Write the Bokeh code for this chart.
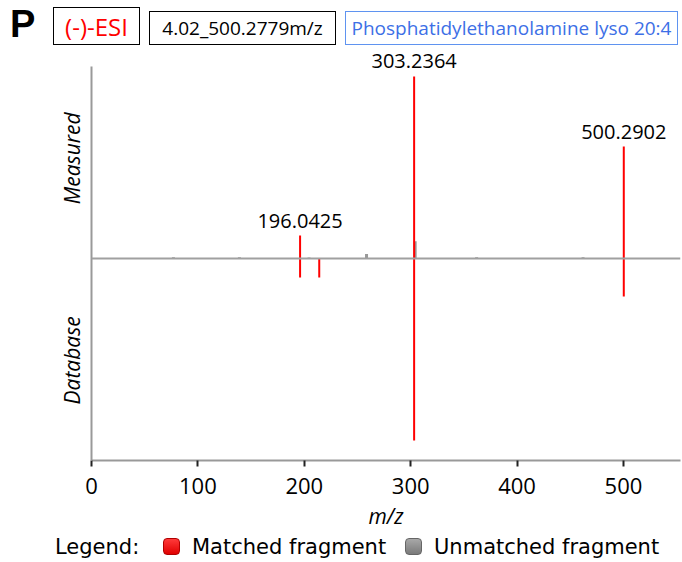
from bokeh.core.properties import value
from bokeh.embed import file_html
from bokeh.layouts import column
from bokeh.models import ColumnDataSource, Div, FixedTicker, Span
from bokeh.plotting import figure
from bokeh.resources import INLINE

# Fragment spectra: measured peaks point up, database peaks point down
matched_mz = [196.0425, 303.2364, 500.2902]
matched_int = [12.6, 100.0, 61.5]

unmatched_mz = [77.0, 139.0, 204.5, 258.5, 304.2, 362.0, 462.0]
unmatched_int = [0.6, 0.6, 0.5, 2.5, 9.5, 0.6, 0.6]

database_mz = [196.0425, 214.0531, 303.2364, 500.2902]
database_int = [-10.4, -10.4, -100.0, -20.9]

x_ticks = [0, 100, 200, 300, 400, 500]
side_labels = {55: "Measured", -56: "Database"}

ion_mode = "(-)-ESI"
feature_id = "4.02_500.2779m/z"
compound = "Phosphatidylethanolamine lyso 20:4"
legend_items = [("Matched fragment", "#ff3a3a", "#e00000", "#b00000"),
                ("Unmatched fragment", "#a8a8a8", "#7a7a7a", "#666666")]

FONT = "Open Sans"
RED = "#ff0000"
GREY = "#999999"

HEADER_H = 47
LEGEND_H = 27
PLOT_H = 562 - HEADER_H - LEGEND_H

# ---------------------------------------------------------------- header
header_html = f"""
<div style="position:relative;width:682px;height:{HEADER_H}px;background:white;">
  <div style="position:absolute;left:10px;top:3px;font:bold 38px 'Liberation Sans';color:black;">P</div>
  <div style="position:absolute;left:53px;top:7px;width:87px;height:38px;border:1px solid black;
              display:flex;align-items:center;justify-content:center;
              font:24px 'Open Sans';color:#ff0000;">{ion_mode}</div>
  <div style="position:absolute;left:149px;top:11px;width:187px;height:34px;border:1px solid black;
              display:flex;align-items:center;justify-content:center;
              font:19px 'Open Sans';color:black;">{feature_id}</div>
  <div style="position:absolute;left:345px;top:11px;width:333px;height:34px;border:1px solid #5f93f0;
              display:flex;align-items:center;justify-content:center;
              font:19px 'Open Sans';color:#3d6fe6;">{compound}</div>
</div>
"""
header = Div(text=header_html, width=682, height=HEADER_H, margin=0)

# ---------------------------------------------------------------- spectrum
p = figure(
    width=682, height=PLOT_H,
    x_range=(0, 553.6), y_range=(-111, 115.9),
    output_backend="svg", toolbar_location=None,
    min_border_left=91, min_border_right=2,
    min_border_top=0, min_border_bottom=75,
    margin=0,
)
p.outline_line_color = None
p.grid.visible = False
p.background_fill_color = "white"
p.border_fill_color = "white"

# left axis: grey rule carrying the two side captions
ya = p.yaxis[0]
ya.bounds = (-111, 105.5)
ya.ticker = FixedTicker(ticks=list(side_labels))
ya.major_label_overrides = dict(side_labels)
ya.major_label_orientation = "parallel"
ya.axis_line_color = GREY
ya.axis_line_width = 2
ya.major_tick_line_color = None
ya.minor_tick_line_color = None
ya.major_tick_out = 0
ya.major_tick_in = 0
ya.major_label_standoff = 5
ya.major_label_text_font = FONT
ya.major_label_text_font_size = "21px"
ya.major_label_text_font_style = "italic"
ya.major_label_text_color = "black"

# bottom axis
xa = p.xaxis[0]
xa.ticker = FixedTicker(ticks=x_ticks)
xa.axis_line_color = GREY
xa.axis_line_width = 2
xa.major_tick_line_color = "#222222"
xa.major_tick_line_width = 2
xa.major_tick_out = 6
xa.major_tick_in = 0
xa.minor_tick_line_color = None
xa.major_label_text_font = FONT
xa.major_label_text_font_size = "22px"
xa.major_label_text_color = "black"
xa.major_label_standoff = 11
xa.axis_label = "m/z"
xa.axis_label_text_font = FONT
xa.axis_label_text_font_size = "21px"
xa.axis_label_text_font_style = "italic"
xa.axis_label_text_color = "black"
xa.axis_label_standoff = 5

# peaks
unm = ColumnDataSource(dict(x=unmatched_mz, y=unmatched_int, y0=[0] * len(unmatched_mz)))
p.segment(x0="x", y0="y0", x1="x", y1="y", source=unm, line_color=GREY, line_width=3)

meas = ColumnDataSource(dict(
    x=matched_mz, y=matched_int, y0=[0] * len(matched_mz),
    label=[f"{m:.4f}" for m in matched_mz],
))
p.segment(x0="x", y0="y0", x1="x", y1="y", source=meas, line_color=RED, line_width=2)

db = ColumnDataSource(dict(x=database_mz, y=database_int, y0=[0] * len(database_mz)))
p.segment(x0="x", y0="y0", x1="x", y1="y", source=db, line_color=RED, line_width=2)

p.text(x="x", y="y", text="label", source=meas, y_offset=-15,
       text_align="center", text_baseline="alphabetic",
       text_font=value(FONT), text_font_size="20px", text_color="black")

# zero line drawn over the peaks
p.add_layout(Span(location=0, dimension="width", line_color="#a0a0a0", line_width=2))

# ---------------------------------------------------------------- legend
swatches = []
for i, (name, c1, c2, edge) in enumerate(legend_items):
    left = 163 + i * 242
    swatches.append(f"""
  <div style="position:absolute;left:{left}px;top:3px;width:17px;height:17px;border:1px solid {edge};
              border-radius:4px;background:linear-gradient({c1},{c2});"></div>
  <div style="position:absolute;left:{left + 29}px;top:0px;height:25px;line-height:25px;
              font:21px 'DejaVu Sans';color:black;white-space:nowrap;">{name}</div>""")

legend_html = f"""
<div style="position:relative;width:682px;height:{LEGEND_H}px;background:white;">
  <div style="position:absolute;left:55px;top:0px;height:25px;line-height:25px;
              font:21px 'DejaVu Sans';color:black;">Legend:</div>{''.join(swatches)}
</div>
"""
legend = Div(text=legend_html, width=682, height=LEGEND_H, margin=0)

page = column(header, p, legend, spacing=0, margin=0)

open("out.html", "w").write(file_html(page, INLINE))
